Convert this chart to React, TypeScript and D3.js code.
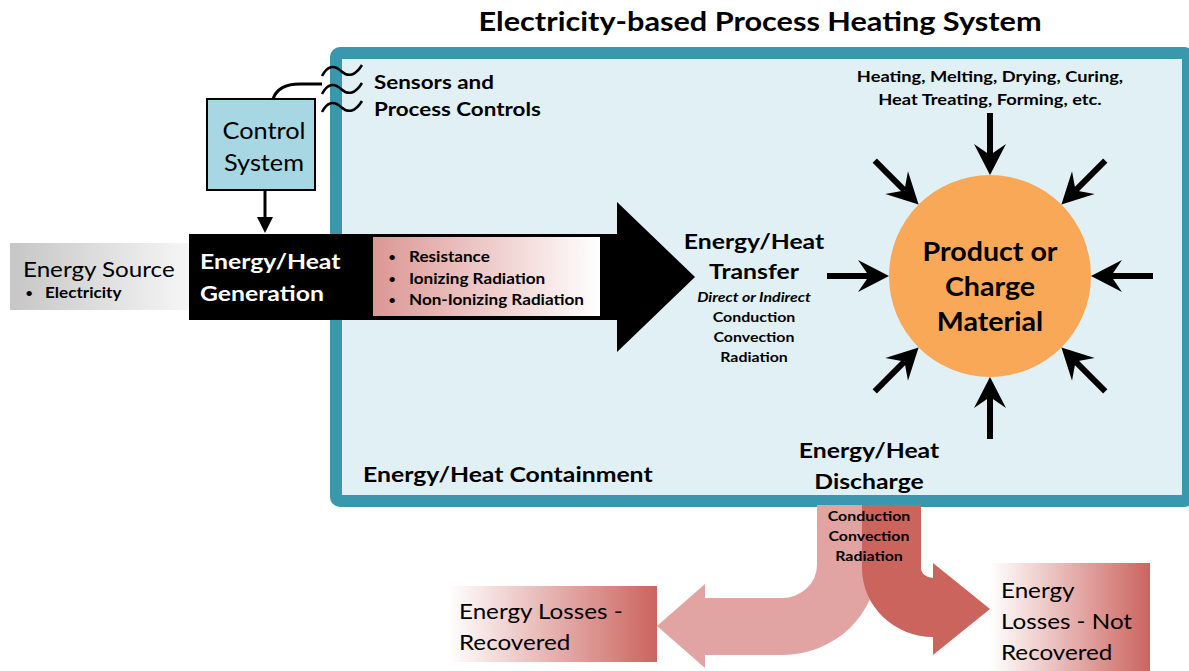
import { useEffect, useRef } from 'react';
import * as d3 from 'd3';

const title = 'Electricity-based Process Heating System';
const controlLabel = ['Control', 'System'];
const sensorLabel = ['Sensors and', 'Process Controls'];
const sourceLabel = 'Energy Source';
const sourceItems = ['Electricity'];
const generationLabel = ['Energy/Heat', 'Generation'];
const generationItems = ['Resistance', 'Ionizing Radiation', 'Non-Ionizing Radiation'];
const transferLabel = ['Energy/Heat', 'Transfer'];
const transferMode = 'Direct or Indirect';
const transferItems = ['Conduction', 'Convection', 'Radiation'];
const processLabel = ['Heating, Melting, Drying, Curing,', 'Heat Treating, Forming, etc.'];
const productLabel = ['Product or', 'Charge', 'Material'];
const containmentLabel = 'Energy/Heat Containment';
const dischargeLabel = ['Energy/Heat', 'Discharge'];
const dischargeItems = ['Conduction', 'Convection', 'Radiation'];
const recoveredLabel = ['Energy Losses -', 'Recovered'];
const notRecoveredLabel = ['Energy', 'Losses - Not', 'Recovered'];
const inwardAngles = [0, 45, 90, 135, 180, 225, 270, 315];
const sensorWaves = [0, 1, 2];

const FONT = 'Lato, "Open Sans", sans-serif';

const App = () => {
  const ref = useRef<SVGSVGElement | null>(null);

  useEffect(() => {
    const svg = d3.select(ref.current);
    svg.selectAll('*').remove();

    const defs = svg.append('defs');
    const grad = (id: string, from: string, to: string) => {
      const g = defs.append('linearGradient').attr('id', id).attr('x1', '0%').attr('x2', '100%');
      g.append('stop').attr('offset', '0%').attr('stop-color', from);
      g.append('stop').attr('offset', '100%').attr('stop-color', to);
    };
    grad('srcGrad', '#c6c6c6', '#f6f6f6');
    grad('pinkGrad', '#dc9794', '#ffffff');
    grad('lossGrad', '#ffffff', '#cc645e');

    // Lato is narrower than the original Calibri, so stretch it a bit
    const text = (
      arr: string[],
      x: number,
      y0: number,
      dy: number,
      size: number,
      weight = 'normal',
      anchor = 'start',
      fill = '#000',
      style = 'normal',
      sx = weight === 'bold' ? 1.18 : 1.1
    ) => {
      arr.forEach((t, i) => {
        svg
          .append('text')
          .attr('transform', `translate(${x},${y0 + i * dy}) scale(${sx},1)`)
          .attr('font-family', FONT)
          .attr('font-size', size)
          .attr('font-weight', weight)
          .attr('font-style', style)
          .attr('text-anchor', anchor)
          .attr('fill', fill)
          .text(t);
      });
    };

    // containment box
    svg
      .append('rect')
      .attr('x', 336)
      .attr('y', 53)
      .attr('width', 852)
      .attr('height', 448)
      .attr('rx', 4)
      .attr('fill', '#e1f0f5')
      .attr('stroke', '#3b97ad')
      .attr('stroke-width', 12);

    text([title], 760, 31, 0, 26, 'bold', 'middle');

    // control system
    svg
      .append('rect')
      .attr('x', 207)
      .attr('y', 99)
      .attr('width', 108)
      .attr('height', 91)
      .attr('fill', '#a6d7e3')
      .attr('stroke', '#000')
      .attr('stroke-width', 2);
    text(controlLabel, 264, 139, 32, 23, 'normal', 'middle');

    const wire = d3.path();
    wire.moveTo(273, 99);
    wire.quadraticCurveTo(278, 84, 300, 84);
    wire.lineTo(322, 84);
    svg.append('path').attr('d', wire.toString()).attr('fill', 'none').attr('stroke', '#000').attr('stroke-width', 3);

    sensorWaves.forEach((i) => {
      const y = 71 + i * 18;
      const p = d3.path();
      p.moveTo(322, y + 5);
      p.quadraticCurveTo(330, y - 10, 341, y);
      p.quadraticCurveTo(352, y + 10, 362, y - 6);
      svg.append('path').attr('d', p.toString()).attr('fill', 'none').attr('stroke', '#000').attr('stroke-width', 2.5);
    });
    text(sensorLabel, 374, 89, 27, 19, 'bold');

    // control arrow down
    svg.append('line').attr('x1', 265).attr('y1', 190).attr('x2', 265).attr('y2', 218).attr('stroke', '#000').attr('stroke-width', 3);
    svg.append('path').attr('d', 'M257,217L273,217L265,233Z').attr('fill', '#000');

    // energy source
    svg.append('rect').attr('x', 10).attr('y', 243).attr('width', 180).attr('height', 67).attr('fill', 'url(#srcGrad)');
    text([sourceLabel], 23, 277, 0, 22);
    sourceItems.forEach((t, i) => {
      text(['•'], 25, 298 + i * 20, 0, 13);
      text([t], 45, 298 + i * 20, 0, 14.5, 'bold');
    });

    // generation arrow
    svg
      .append('path')
      .attr('d', 'M189,234L617,234L617,202L695,277L617,352L617,320L189,320Z')
      .attr('fill', '#000');
    text(generationLabel, 200, 269, 32, 21, 'bold', 'start', '#fff');
    svg.append('rect').attr('x', 373).attr('y', 237).attr('width', 227).attr('height', 79).attr('fill', 'url(#pinkGrad)');
    generationItems.forEach((t, i) => {
      text(['•'], 388, 262 + i * 21.5, 0, 13);
      text([t], 409, 262 + i * 21.5, 0, 14.5, 'bold');
    });

    // transfer
    text(transferLabel, 754, 249, 30, 21, 'bold', 'middle');
    text([transferMode], 754, 302, 0, 13.5, 'bold', 'middle', '#000', 'italic');
    text(transferItems, 754, 322, 20, 13.5, 'bold', 'middle');

    // product
    const cx = 990;
    const cy = 276;
    const r = 101;
    svg.append('circle').attr('cx', cx).attr('cy', cy).attr('r', r).attr('fill', '#f8a857');
    text(productLabel, cx, 261, 35, 26, 'bold', 'middle', '#000', 'normal', 1.1);
    text(processLabel, cx, 82, 23, 15.5, 'bold', 'middle');

    inwardAngles.forEach((deg) => {
      const a = (deg * Math.PI) / 180;
      const ux = Math.cos(a);
      const uy = Math.sin(a);
      const nx = -uy;
      const ny = ux;
      const tx = cx + r * ux;
      const ty = cy + r * uy;
      const pt = (d: number, s: number) => [tx + d * ux + s * nx, ty + d * uy + s * ny];
      const [sx, sy] = pt(62, 0);
      const [mx, my] = pt(20, 0);
      svg.append('line').attr('x1', sx).attr('y1', sy).attr('x2', mx).attr('y2', my).attr('stroke', '#000').attr('stroke-width', 6);
      const [b1x, b1y] = pt(31, 16);
      const [b2x, b2y] = pt(31, -16);
      const head = d3.path();
      head.moveTo(tx, ty);
      head.lineTo(b1x, b1y);
      head.lineTo(mx, my);
      head.lineTo(b2x, b2y);
      head.closePath();
      svg.append('path').attr('d', head.toString()).attr('fill', '#000');
    });

    text([containmentLabel], 363, 482, 0, 21, 'bold');
    text(dischargeLabel, 869, 458, 31, 21, 'bold', 'middle');

    // discharge arrows
    svg
      .append('path')
      .attr(
        'd',
        'M817,505L817,565A35,33 0 0 1 782,598L705,598L705,584L657,626L705,668L705,655L782,655A95,90 0 0 0 877,565L877,505Z'
      )
      .attr('fill', '#e1a4a2');
    svg
      .append('path')
      .attr('d', 'M862,505L921,505L921,568A12,10 0 0 0 933,578L933,563L990,609L933,655L933,637A71,69 0 0 1 862,568Z')
      .attr('fill', '#cc645e');
    text(dischargeItems, 869, 521, 20, 13.5, 'bold', 'middle');

    // loss boxes
    svg.append('rect').attr('x', 448).attr('y', 586).attr('width', 209).attr('height', 76).attr('fill', 'url(#lossGrad)');
    text(recoveredLabel, 459, 619, 31, 22);
    svg.append('rect').attr('x', 990).attr('y', 563).attr('width', 160).attr('height', 108).attr('fill', 'url(#lossGrad)');
    text(notRecoveredLabel, 1001, 598, 31, 22);
  }, []);

  return (
    <svg
      ref={ref}
      width={1189}
      height={671}
      style={{ position: 'absolute', left: 0, top: 0, background: '#fff' }}
    />
  );
};

export default App;
